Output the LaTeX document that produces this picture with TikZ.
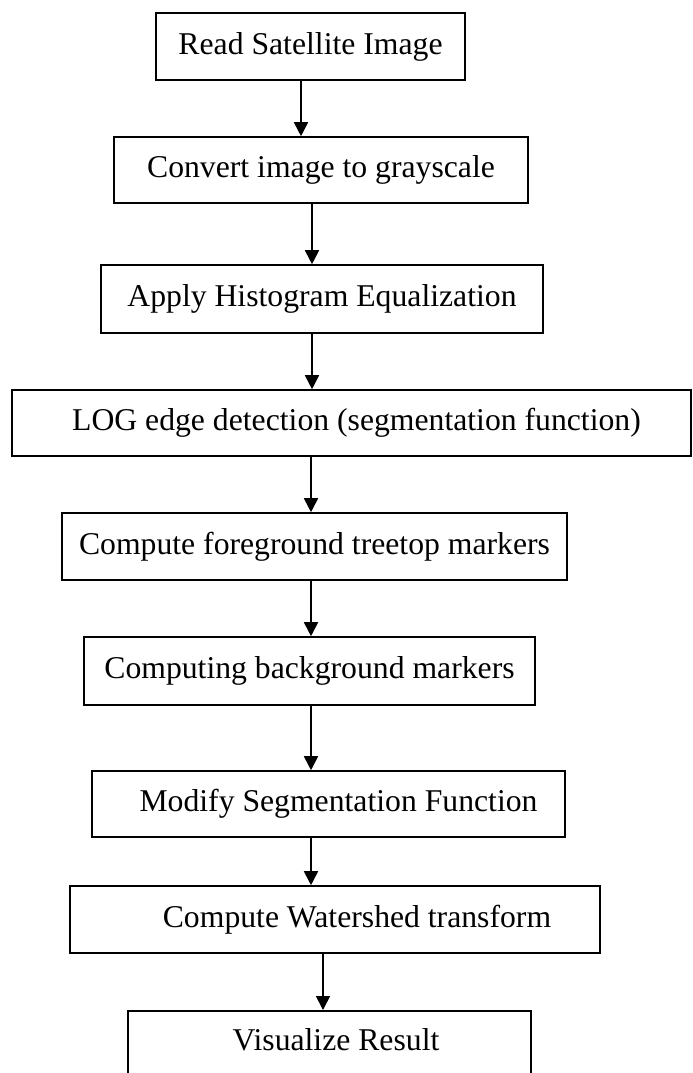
\documentclass[tikz,border=0pt]{standalone}
\usepackage{fontspec}
\setmainfont{Liberation Serif}
\usetikzlibrary{arrows.meta}
\begin{document}
\begin{tikzpicture}[x=1pt,y=-1pt,
  box/.style={draw=black, line width=1.6pt, rectangle, inner sep=0pt, font=\fontsize{31.7}{38}\selectfont},
  lbl/.style={inner sep=0pt, font=\fontsize{31.7}{38}\selectfont},
  arr/.style={draw=black, line width=1.8pt, -{Triangle[width=14pt,length=14pt]}}]
\clip (0,0) rectangle (693,1073);
\fill[white] (0,0) rectangle (693,1073);
\node[box, minimum width=309pt, minimum height=67pt] (b1) at (310.5,46.5) {Read Satellite Image};
\node[box, minimum width=414pt, minimum height=66pt] (b2) at (321,170) {Convert image to grayscale};
\node[box, minimum width=442pt, minimum height=68pt] (b3) at (322,299) {Apply Histogram Equalization};
\node[box, minimum width=679pt, minimum height=66pt] (b4) at (351.5,423) {\hspace*{10pt}LOG edge detection (segmentation function)};
\node[box, minimum width=505pt, minimum height=67pt] (b5) at (314.5,546.5) {Compute foreground treetop markers};
\node[box, minimum width=451pt, minimum height=68pt] (b6) at (309.5,671) {Computing background markers};
\node[box, minimum width=473pt, minimum height=66pt] (b7) at (328.5,804) {\hspace*{20pt}Modify Segmentation Function};
\node[box, minimum width=530pt, minimum height=67pt] (b8) at (335,919.5) {\hspace*{44pt}Compute Watershed transform};
\node[box, minimum width=403pt, minimum height=100pt, anchor=north west] (b9) at (127,1010) {};
\node[lbl] (t9) at (336,1040) {Visualize Result};
\coordinate (a1) at (301,0);
\coordinate (a2) at (312,0);
\coordinate (a3) at (312,0);
\coordinate (a4) at (311,0);
\coordinate (a5) at (311,0);
\coordinate (a6) at (311,0);
\coordinate (a7) at (311,0);
\coordinate (a8) at (323,0);
\draw[arr] (b1.south -| a1) -- (b2.north -| a1);
\draw[arr] (b2.south -| a2) -- (b3.north -| a2);
\draw[arr] (b3.south -| a3) -- (b4.north -| a3);
\draw[arr] (b4.south -| a4) -- (b5.north -| a4);
\draw[arr] (b5.south -| a5) -- (b6.north -| a5);
\draw[arr] (b6.south -| a6) -- (b7.north -| a6);
\draw[arr] (b7.south -| a7) -- (b8.north -| a7);
\draw[arr] (b8.south -| a8) -- (b9.north -| a8);
\end{tikzpicture}
\end{document}
